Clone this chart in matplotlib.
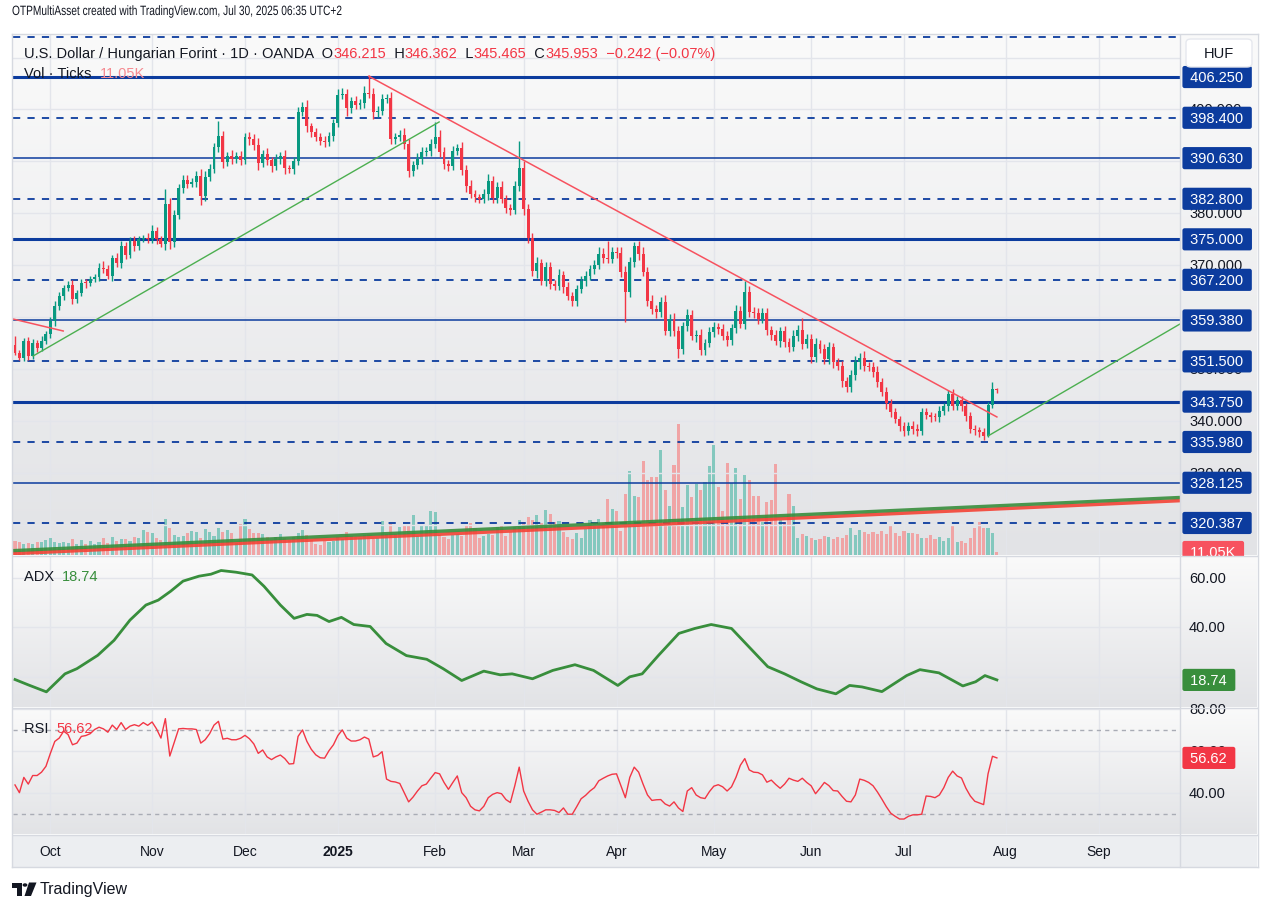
import numpy as np
import pandas as pd
import matplotlib
matplotlib.use("Agg")
import matplotlib.pyplot as plt
from matplotlib.patches import Rectangle, Circle, Polygon, FancyBboxPatch, PathPatch
from matplotlib.colors import LinearSegmentedColormap
from matplotlib.textpath import TextPath
from matplotlib.font_manager import FontProperties
from matplotlib.transforms import Affine2D, IdentityTransform

plt.rcParams['font.family'] = ['Liberation Sans', 'DejaVu Sans']

# ---------------- data (USD/HUF daily, OANDA) ----------------
first_open = 354.65
closes = [353.11, 352.15, 355.43, 352.54, 355.04, 354.08, 355.43, 356.77, 359.28, 362.17,
          364.09, 365.63, 366.21, 363.51, 364.67, 366.59, 366.50, 367.36, 367.75, 369.48,
          369.29, 367.94, 371.40, 370.44, 373.72, 371.98, 374.68, 373.72, 375.06, 375.26,
          375.06, 376.60, 375.06, 374.10, 381.80, 374.49, 379.68, 384.88, 386.42, 385.65,
          386.04, 387.19, 383.34, 387.00, 388.54, 392.77, 394.89, 389.89, 391.04, 390.46,
          391.04, 390.27, 394.70, 394.31, 393.16, 389.69, 391.43, 390.27, 389.12, 390.46,
          391.04, 388.73, 388.54, 390.08, 399.51, 400.48, 396.82, 395.66, 394.70, 393.93,
          393.74, 394.89, 397.40, 402.79, 402.98, 400.29, 401.63, 400.86, 401.25, 403.17,
          402.98, 399.51, 399.71, 402.02, 402.21, 394.31, 394.70, 395.10, 393.35, 388.15,
          389.31, 390.46, 391.81, 392.00, 393.35, 394.70, 391.81, 389.50, 389.20, 392.00,
          392.58, 388.35, 385.27, 383.73, 383.15, 382.76, 383.73, 386.23, 382.96, 385.07,
          382.76, 381.03, 380.65, 385.27, 388.73, 380.84, 375.26, 368.90, 370.44, 366.98,
          369.67, 366.40, 366.10, 368.13, 365.82, 364.09, 363.13, 365.44, 366.98, 367.94,
          369.29, 370.06, 372.17, 371.40, 371.30, 372.56, 372.40, 368.71, 364.86, 370.63,
          373.72, 372.17, 368.71, 363.13, 361.50, 361.00, 362.93, 357.35, 359.66, 357.35,
          353.89, 358.31, 360.43, 356.39, 356.60, 353.69, 355.04, 357.16, 358.12, 357.74,
          356.39, 355.62, 357.93, 361.20, 358.70, 364.86, 361.00, 360.90, 359.66, 360.82,
          357.54, 356.58, 355.43, 357.35, 355.23, 354.27, 356.39, 357.54, 354.85, 355.81,
          352.34, 354.85, 353.89, 351.96, 354.27, 351.38, 350.61, 347.72, 346.57, 348.88,
          351.38, 352.15, 350.61, 350.50, 349.46, 347.53, 345.61, 343.49, 341.76, 340.41,
          339.06, 338.10, 339.06, 338.48, 338.10, 341.76, 341.18, 340.80, 340.75, 341.95,
          342.90, 345.22, 342.91, 344.07, 342.91, 340.99, 338.48, 338.30, 337.91, 337.14,
          343.12, 346.215, 345.953]

wick_up = [1.8, 0.5, 0.6, 0.7, 0.8, 0.6, 0.9, 0.6, 0.8, 1.0,
           0.7, 0.6, 0.8, 0.9, 0.5, 0.8, 0.7, 0.5, 0.6, 0.9,
           1.3, 0.7, 0.6, 1.0, 0.9, 0.8, 0.7, 1.0, 0.6, 0.5,
           0.9, 1.1, 0.8, 0.6, 2.9, 1.2, 0.9, 0.8, 1.0, 0.9,
           0.7, 0.9, 1.4, 1.1, 0.9, 0.8, 2.9, 1.0, 0.8, 1.1,
           0.7, 0.9, 0.8, 1.0, 0.9, 1.4, 0.8, 1.2, 0.6, 0.9,
           0.8, 1.1, 0.6, 0.7, 0.9, 1.0, 1.3, 0.6, 0.8, 0.7,
           0.9, 0.8, 0.7, 1.2, 1.1, 0.9, 0.8, 1.0, 0.7, 1.3,
           3.4, 1.1, 0.9, 1.0, 0.8, 1.2, 0.7, 0.9, 1.3, 1.0,
           0.8, 1.1, 0.9, 0.7, 1.0, 2.9, 1.4, 0.9, 0.8, 1.0,
           0.7, 1.2, 0.9, 1.1, 0.8, 0.6, 0.9, 1.4, 1.0, 0.9,
           1.2, 0.8, 0.7, 0.9, 5.2, 1.3, 0.9, 1.0, 1.1, 0.8,
           0.9, 1.0, 0.7, 1.2, 0.8, 0.9, 0.7, 0.8, 1.0, 0.9,
           0.8, 0.9, 1.3, 1.1, 3.3, 0.9, 1.0, 1.2, 1.1, 0.9,
           0.8, 1.0, 1.3, 0.9, 1.2, 0.8, 1.0, 1.4, 0.9, 1.1,
           0.9, 0.8, 1.2, 1.0, 0.9, 1.1, 0.8, 1.0, 0.9, 0.7,
           1.0, 0.9, 0.8, 1.1, 1.0, 2.1, 1.2, 0.9, 0.8, 1.0,
           0.9, 0.8, 1.0, 0.7, 0.9, 0.8, 1.1, 0.9, 2.3, 1.0,
           0.9, 1.1, 0.8, 0.9, 1.0, 0.8, 0.7, 0.9, 0.8, 1.0,
           1.1, 0.9, 1.3, 0.8, 0.9, 1.2, 0.8, 0.9, 0.7, 0.8,
           0.6, 0.7, 0.8, 1.0, 0.9, 0.7, 0.8, 0.6, 0.7, 0.9,
           0.6, 0.8, 0.9, 0.7, 0.8, 0.6, 0.7, 0.8, 0.6, 0.7,
           0.5, 1.3, 0.147]

wick_dn = [0.4, 0.35, 0.5, 0.8, 0.6, 0.7, 0.5, 0.6, 0.8, 0.9,
           0.7, 0.8, 0.6, 0.9, 0.7, 0.6, 0.8, 0.5, 0.6, 0.7,
           0.8, 0.6, 0.9, 0.7, 1.0, 0.8, 0.6, 0.9, 0.7, 0.6,
           0.8, 0.7, 0.9, 0.6, 1.1, 1.4, 0.9, 0.7, 1.0, 0.8,
           0.6, 0.9, 1.8, 1.0, 0.8, 0.7, 0.9, 1.2, 0.8, 0.9,
           0.7, 0.9, 0.8, 1.1, 0.9, 1.3, 0.7, 0.9, 1.1, 0.8,
           0.9, 1.2, 0.8, 0.9, 0.7, 0.8, 1.1, 0.9, 0.8, 0.7,
           1.0, 0.8, 0.9, 0.7, 0.8, 1.5, 0.9, 0.8, 0.7, 0.9,
           0.8, 1.3, 0.9, 0.7, 0.8, 0.9, 1.0, 0.8, 0.9, 1.2,
           0.9, 0.8, 1.0, 0.7, 0.9, 0.8, 1.0, 0.9, 1.1, 0.8,
           0.7, 0.9, 1.1, 0.8, 0.9, 0.7, 0.8, 1.2, 1.0, 0.9,
           0.8, 1.0, 0.9, 0.7, 0.9, 1.1, 1.0, 0.9, 1.4, 0.8,
           0.9, 1.0, 0.8, 0.9, 1.1, 0.8, 0.9, 1.0, 0.8, 0.9,
           0.7, 0.9, 0.8, 1.0, 0.9, 0.8, 1.0, 0.9, 5.8, 1.0,
           0.9, 1.1, 0.8, 1.0, 0.9, 1.2, 1.0, 0.8, 0.9, 1.0,
           1.7, 0.9, 1.0, 0.8, 1.1, 0.9, 1.0, 0.8, 0.9, 1.0,
           0.8, 1.1, 0.9, 1.0, 0.8, 0.9, 1.0, 1.1, 0.9, 0.8,
           1.0, 0.9, 0.8, 1.1, 0.9, 1.0, 0.8, 0.9, 1.0, 0.8,
           1.1, 0.9, 0.8, 1.0, 0.9, 1.1, 0.8, 1.1, 0.9, 1.0,
           0.9, 1.3, 1.0, 0.8, 0.9, 1.0, 0.8, 1.1, 0.9, 0.8,
           0.9, 1.0, 0.8, 0.9, 1.0, 0.8, 0.7, 0.9, 0.8, 0.9,
           0.8, 0.9, 0.7, 0.8, 0.9, 1.0, 0.8, 0.9, 1.0, 0.8,
           0.2, 0.6, 0.488]

volume_k = [52, 48, 41, 44, 41, 48, 48, 55, 63, 48,
            44, 48, 44, 59, 41, 55, 41, 52, 41, 48,
            63, 44, 66, 52, 59, 59, 52, 66, 63, 92,
            85, 81, 63, 55, 133, 100, 74, 66, 70, 81,
            89, 85, 63, 96, 85, 70, 100, 85, 92, 81,
            44, 114, 133, 96, 81, 81, 77, 66, 55, 66,
            77, 63, 55, 66, 81, 92, 74, 55, 41, 37,
            52, 48, 52, 66, 59, 85, 70, 66, 63, 74,
            77, 59, 63, 125, 77, 114, 77, 103, 111, 111,
            148, 70, 111, 107, 162, 159, 74, 66, 59, 74,
            77, 70, 107, 118, 100, 63, 70, 77, 74, 103,
            107, 70, 85, 103, 129, 122, 140, 129, 148, 118,
            166, 151, 122, 125, 85, 66, 59, 81, 63, 96,
            129, 118, 133, 118, 207, 170, 162, 89, 225, 310,
            218, 214, 347, 277, 288, 288, 387, 240, 181, 332,
            483, 177, 258, 214, 262, 240, 269, 328, 406, 251,
            162, 339, 266, 321, 207, 295, 277, 218, 218, 122,
            196, 203, 336, 129, 122, 225, 181, 63, 77, 70,
            63, 55, 59, 70, 66, 59, 66, 63, 74, 100,
            74, 92, 85, 77, 85, 77, 89, 77, 107, 81,
            70, 89, 81, 81, 77, 63, 63, 74, 59, 66,
            52, 63, 111, 48, 52, 44, 63, 100, 122, 100,
            100, 81, 11.05]

adx_bar = [0, 3.05, 7.1, 11.3, 14.0, 18.7, 22.4, 26.0, 29.6, 32.4, 35.2, 38.0, 41.6, 44.3,
           46.6, 50.0, 53.6, 56.3, 60.0, 63.1, 66.0, 68.3, 71.0, 73.8, 76.6, 80.3, 83.9,
           88.5, 93.1, 96.8, 101.0, 106.0, 109.7, 112.4, 117.0, 121.6, 126.6, 130.8, 136.3,
           139.0, 141.8, 145.5, 150.1, 153.7, 157.4, 162.0, 164.8, 170.2, 174.0, 177.7,
           181.3, 185.6, 188.7, 191.5, 196.0, 201.6, 204.6, 208.9, 214.3, 217.2, 219.3, 222.0]
adx_val = [18.9, 16.7, 13.9, 21.2, 23.3, 28.7, 34.8, 43.0, 49.1, 51.1, 54.7, 58.8, 60.8, 61.6,
           63.1, 62.4, 61.3, 56.7, 49.1, 43.7, 45.3, 44.9, 42.4, 44.1, 41.2, 40.4, 33.5,
           28.6, 27.1, 23.3, 18.5, 22.3, 20.8, 21.2, 19.2, 22.6, 24.9, 22.6, 16.5,
           20.0, 21.2, 28.7, 37.6, 39.6, 41.2, 39.6, 34.3, 24.1, 21.2, 18.0,
           15.1, 13.1, 16.5, 15.9, 14.0, 20.5, 22.9, 21.6, 16.3, 18.0, 20.5, 18.74]

rsi = [43.7, 40.0, 47.3, 44.1, 48.2, 48.2, 49.8, 52.6, 58.8, 64.5,
       66.1, 69.4, 67.8, 62.9, 63.7, 66.9, 67.3, 68.2, 70.2, 71.3,
       70.5, 68.9, 72.3, 70.2, 73.5, 70.2, 71.8, 72.5, 71.8, 73.5,
       72.2, 73.8, 70.5, 66.1, 75.4, 57.5, 64.0, 70.5, 70.7, 70.5,
       70.5, 70.2, 63.7, 65.3, 68.2, 72.3, 74.1, 65.6, 66.0, 65.3,
       65.3, 66.0, 67.4, 65.8, 63.3, 58.8, 60.4, 57.1, 55.8, 57.1,
       58.0, 56.3, 53.7, 53.9, 66.9, 70.0, 64.5, 60.7, 58.1, 56.7,
       56.5, 60.1, 62.9, 67.3, 70.0, 66.1, 64.7, 64.7, 65.3, 66.6,
       65.6, 57.1, 57.8, 59.6, 46.5, 45.4, 45.1, 44.4, 40.0, 35.6,
       37.9, 40.8, 43.3, 44.1, 46.9, 49.6, 49.0, 44.9, 41.6, 44.9,
       48.0, 40.0, 37.6, 33.5, 31.8, 31.3, 33.5, 37.6, 39.2, 40.0,
       39.5, 36.7, 35.3, 43.3, 52.2, 40.8, 35.9, 31.8, 29.7, 30.7,
       31.8, 31.8, 31.5, 30.5, 32.7, 29.7, 29.7, 33.3, 37.1, 38.7,
       40.8, 42.4, 45.7, 46.9, 48.0, 48.8, 49.0, 43.3, 37.6, 47.3,
       52.2, 49.8, 44.1, 38.9, 36.3, 36.6, 36.7, 34.6, 33.6, 35.6,
       32.7, 31.0, 40.8, 42.4, 38.9, 37.6, 37.2, 40.5, 43.1, 43.8,
       42.8, 40.8, 42.8, 47.3, 53.1, 56.3, 50.9, 49.8, 49.6, 48.5,
       45.0, 46.0, 43.9, 42.1, 44.1, 46.9, 46.0, 45.4, 46.9, 44.9,
       43.3, 39.5, 42.1, 44.9, 43.4, 41.0, 40.8, 38.2, 35.9, 35.6,
       38.9, 46.5, 45.9, 44.9, 43.3, 40.3, 36.9, 33.3, 30.2, 28.7,
       27.4, 27.4, 28.7, 29.4, 29.4, 29.7, 38.4, 38.2, 37.6, 38.9,
       42.4, 47.3, 50.3, 48.0, 47.0, 42.1, 38.4, 35.9, 35.1, 34.3,
       49.0, 57.4, 56.62]

# horizontal drawings
hline_levels = [414.0, 406.25, 398.4, 390.63, 382.8, 375.0, 367.2, 359.38, 351.5,
                343.75, 335.98, 328.125, 320.387]
hline_kind = ['dash', 'thick', 'dash', 'thin', 'dash', 'thick', 'dash', 'thin', 'dash',
              'thick', 'dash', 'thin', 'dash']
hline_text = ['', '406.250', '398.400', '390.630', '382.800', '375.000', '367.200',
              '359.380', '351.500', '343.750', '335.980', '328.125', '320.387']
# price-scale ticks that are not fully covered by a drawing label
price_ticks = [400, 380, 370, 350, 340, 330]

# trend lines: bar0, price0, bar1, price1
red_lines = [(80.0, 406.4, 222.0, 340.8), (-0.45, 359.66, 10.9, 357.35)]
green_lines = [(4.1, 352.54, 95.9, 397.6), (220.0, 337.14, 263.4, 358.7)]
long_green = (-0.45, 315.06, 263.4, 325.3)
long_red = (-0.45, 314.5, 263.4, 324.7)

# ---------------- derived structure ----------------
dates = pd.bdate_range('2024-09-19', '2025-09-30')
dates = dates[~dates.isin(pd.to_datetime(['2024-12-25', '2025-01-01']))]
n = len(closes)
idx = np.arange(n)
c = np.array(closes)
o = np.concatenate([[first_open], c[:-1]])
o[-1] = 346.215
top = np.maximum(o, c)
bot = np.minimum(o, c)
hi = top + np.array(wick_up)
lo = bot - np.array(wick_dn)
up = c >= o

month_pos, month_lab = [], []
for k in range(1, len(dates)):
    if dates[k].month != dates[k - 1].month:
        month_pos.append(k)
        month_lab.append('2025' if dates[k].month == 1 else dates[k].strftime('%b'))

# ---------------- figure ----------------
W, H = 1271, 912
fig = plt.figure(figsize=(W / 100, H / 100), dpi=100)
fig.patch.set_facecolor('white')
X0, X1 = -0.45, 263.4
UP, DN = '#089981', '#f23645'
BLUE = '#0c3c9e'
TXT = '#131722'
GRID = '#e3e5eb'
LAB_X = (1189 - 13) / 1167.0   # left edge of right-scale text, in axes fraction


def rect(x0, y0, x1, y1):
    return [x0 / W, 1 - y1 / H, (x1 - x0) / W, (y1 - y0) / H]


bg = LinearSegmentedColormap.from_list('bg', ['#e2e3e6', '#fafafa'])


def shade(a):
    a.imshow(np.linspace(0, 1, 256).reshape(-1, 1), cmap=bg, origin='lower',
             extent=[0, 1, 0, 1], transform=a.transAxes, aspect='auto', zorder=0)


def bare(a):
    a.set_xticks([])
    a.set_yticks([])
    for s in a.spines.values():
        s.set_visible(False)


def pane(y0, y1, lo_, hi_):
    strip = fig.add_axes(rect(1180, y0, 1257, y1))
    shade(strip)
    strip.axis('off')
    a = fig.add_axes(rect(13, y0, 1180, y1))
    shade(a)
    a.set_xlim(X0, X1)
    a.set_ylim(lo_, hi_)
    bare(a)
    for m in month_pos:
        a.axvline(m, color=GRID, lw=1, zorder=1)
    return a


def rlabel(a, y, s, fc=None, tc=TXT, size=10.5):
    kw = {}
    if fc is not None:
        kw['bbox'] = dict(boxstyle='round,pad=0.28,rounding_size=0.15', fc=fc, ec='none')
        s = ' ' + s + ' '
        x = LAB_X - 2.5 / 1167
    else:
        x = LAB_X
    a.text(x, y, s, transform=a.get_yaxis_transform(), ha='left', va='center',
           color=tc, fontsize=size, clip_on=False, zorder=10, **kw)


# main pane: volume underneath, price on top
vol = pane(36, 556, 0, 1920)
vcol = np.where(up, '#84c8be', '#f0a4a5')
vol.bar(idx, volume_k, width=0.7, color=vcol, zorder=2)

ax = fig.add_axes(rect(13, 36, 1180, 556))
ax.set_facecolor('none')
ax.set_xlim(X0, X1)
ax.set_ylim(314.22, 414.34)
bare(ax)
for p in range(320, 411, 10):
    ax.axhline(p, color=GRID, lw=1, zorder=1)
for p in price_ticks:
    rlabel(ax, p, '%.3f' % p)

for lv, kind in zip(hline_levels, hline_kind):
    if kind == 'dash':
        ax.axhline(lv, color=BLUE, lw=1.3, ls=(0, (4, 4)), zorder=3)
    elif kind == 'thick':
        ax.axhline(lv, color=BLUE, lw=2.2, zorder=3)
    else:
        ax.axhline(lv, color=BLUE, lw=1.1, zorder=3)

ax.plot([long_red[0], long_red[2]], [long_red[1], long_red[3]], color='#f44336', lw=2.6,
        alpha=0.9, zorder=4, solid_capstyle='butt')
ax.plot([long_green[0], long_green[2]], [long_green[1], long_green[3]], color='#388e3c',
        lw=2.4, alpha=0.9, zorder=4, solid_capstyle='butt')

cc = np.where(up, UP, DN)
ax.vlines(idx, lo, hi, colors=cc, lw=1, zorder=5)
ax.bar(idx, np.maximum(top - bot, 0.2), bottom=bot, width=0.66, color=cc, zorder=6)

for b0, p0, b1, p1 in red_lines:
    ax.plot([b0, b1], [p0, p1], color='#f7525f', lw=1.1, zorder=7)
for b0, p0, b1, p1 in green_lines:
    ax.plot([b0, b1], [p0, p1], color='#4caf50', lw=1.0, zorder=7)

for lv, s in zip(hline_levels, hline_text):
    if s:
        rlabel(ax, lv, s, fc=BLUE, tc='white')
rlabel(vol, volume_k[-1], '11.05K', fc='#f7525f', tc='white')

# ADX pane
adx = pane(557, 708, 7.76, 68.98)
for g in (20, 40, 60):
    adx.axhline(g, color=GRID, lw=1, zorder=1)
adx.plot(adx_bar, adx_val, color='#388e3c', lw=2.0, zorder=5)
for g in (60, 40):
    rlabel(adx, g, '%.2f' % g)
rlabel(adx, adx_val[-1], '18.74', fc='#388e3c', tc='white')

# RSI pane
rs = pane(709, 835, 20.24, 80.48)
for g in (40, 60, 80):
    rs.axhline(g, color=GRID, lw=1, zorder=1)
for g in (30, 70):
    rs.axhline(g, color='#a9acb5', lw=1, ls=(0, (3, 3)), zorder=2)
rs.plot(idx, rsi, color='#f23645', lw=1.0, zorder=5)
for g in (80, 60, 40):
    rlabel(rs, g, '%.2f' % g)
rlabel(rs, rsi[-1], '56.62', fc='#f23645', tc='white')

# time axis row
tx = fig.add_axes(rect(13, 836, 1257, 868))
tx.set_facecolor('#eceef1')
bare(tx)
tx.set_xlim(X0, X0 + (X1 - X0) * (1257 - 13) / 1167)
tx.set_ylim(0, 1)
for m, lab in zip(month_pos, month_lab):
    if m <= X1:
        tx.text(m, 0.5, lab, ha='center', va='center', fontsize=10, color=TXT,
                fontweight='bold' if lab == '2025' else 'normal')


# frame and separators
def P(x, y):
    return (x / W, 1 - y / H)


for (xa, ya), (xb, yb) in [((12, 35), (1258, 35)), ((12, 868), (1258, 868)),
                           ((12, 35), (12, 868)), ((1258, 35), (1258, 868)),
                           ((13, 556.5), (1257, 556.5)), ((13, 708.5), (1257, 708.5)),
                           ((13, 835.5), (1257, 835.5)), ((1180, 36), (1180, 868))]:
    fig.add_artist(plt.Line2D([xa / W, xb / W], [1 - ya / H, 1 - yb / H],
                              color='#d6d9e0', lw=1, transform=fig.transFigure))

hub = FancyBboxPatch(P(1186, 68), 66 / W, 28 / H, boxstyle='round,pad=0,rounding_size=0.004',
                     transform=fig.transFigure, fc='white', ec='#e6e8ee', lw=1)
fig.add_artist(hub)
fig.text(1219 / W, 1 - 54 / H, 'HUF', ha='center', va='center', fontsize=10.5, color=TXT)

# legends
rend = fig.canvas.get_renderer()


def seg_text(x, y, parts, size):
    for s, col in parts:
        t = fig.text(x / W, 1 - y / H, s, color=col, fontsize=size, ha='left', va='center')
        x += t.get_window_extent(renderer=rend).width


# header line: the screenshot uses a narrow face, so squeeze a text path to its width
head = 'OTPMultiAsset created with TradingView.com, Jul 30, 2025 06:35 UTC+2'
tp = TextPath((0, 0), head, size=13.5, prop=FontProperties(family='Liberation Sans'))
tw = tp.get_extents().width
squeeze = Affine2D().scale(329.0 / tw, 1.0).translate(12, H - 16)
fig.add_artist(PathPatch(tp, transform=squeeze + IdentityTransform(), fc=TXT, ec='none', lw=0))

seg_text(24, 54, [('U.S. Dollar / Hungarian Forint · 1D · OANDA  O', TXT), ('346.215', DN),
                  ('  H', TXT), ('346.362', DN), ('  L', TXT), ('345.465', DN),
                  ('  C', TXT), ('345.953', DN), ('  \u22120.242 (\u22120.07%)', DN)], 10.5)
seg_text(24, 74, [('Vol · Ticks  ', TXT), ('11.05K', '#f58a91')], 10.5)
seg_text(24, 577, [('ADX  ', TXT), ('18.74', '#388e3c')], 10.5)
seg_text(24, 729, [('RSI  ', TXT), ('56.62', DN)], 10.5)

# TradingView mark
fig.add_artist(Rectangle(P(12, 888.5), 9.5 / W, 5 / H, transform=fig.transFigure, fc=TXT, ec='none'))
fig.add_artist(Rectangle(P(16.5, 897), 5 / W, 13.5 / H, transform=fig.transFigure, fc=TXT, ec='none'))
fig.add_artist(Circle(P(25, 886), 2.4 / W, transform=fig.transFigure, fc=TXT, ec='none'))
fig.add_artist(Polygon([P(29, 883.5), P(36.5, 883.5), P(31, 897), P(24.5, 897)],
                       closed=True, transform=fig.transFigure, fc=TXT, ec='none'))
fig.text(40 / W, 1 - 890 / H, 'TradingView', fontsize=11.5, color=TXT, ha='left', va='center')

fig.savefig('out.png', dpi=100)
